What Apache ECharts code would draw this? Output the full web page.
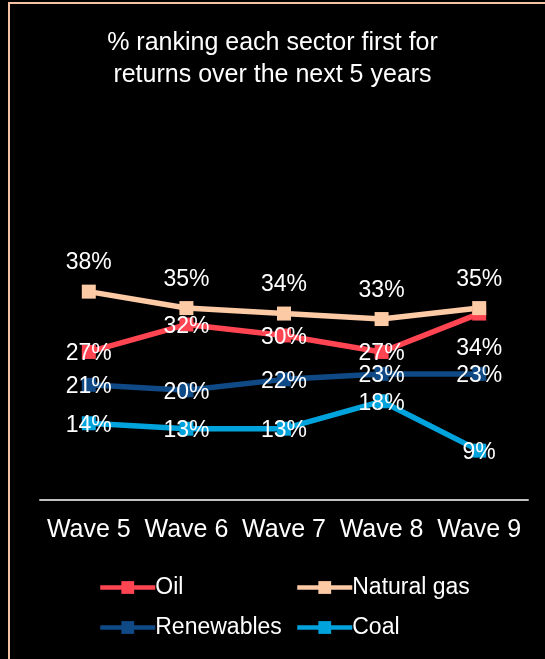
<!DOCTYPE html>
<html>
<head>
<meta charset="utf-8">
<style>
  html, body { margin: 0; padding: 0; background: #000; }
  #chart { width: 545px; height: 659px; }
</style>
<script src="https://cdn.jsdelivr.net/npm/echarts@6/dist/echarts.min.js"></script>
</head>
<body>
<div id="chart"></div>
<script>
// Survey waves on the horizontal axis
const waves = ['Wave 5', 'Wave 6', 'Wave 7', 'Wave 8', 'Wave 9'];

// Share of respondents (%) ranking each sector first
const oil = [27, 32, 30, 27, 34];
const naturalGas = [38, 35, 34, 33, 35];
const renewables = [21, 20, 22, 23, 23];
const coal = [14, 13, 13, 18, 9];

const FONT = '"Liberation Sans", Arial, sans-serif';

// Value labels sitting on top of the point, nudged so the digits look centred
const centred = { position: 'inside', offset: [0, 2] };

function makeSeries(name, values, color, labelOpts) {
  return {
    name: name,
    type: 'line',
    data: values,
    symbol: 'rect',
    symbolSize: 14,
    showAllSymbol: true,
    itemStyle: { color: color },
    lineStyle: { color: color, width: 5.5 },
    label: Object.assign({
      show: true,
      color: '#ffffff',
      fontFamily: FONT,
      fontSize: 23,
      formatter: '{c}%'
    }, labelOpts),
    emphasis: { disabled: true },
    animation: false
  };
}

const legendText = { color: '#ffffff', fontFamily: FONT, fontSize: 23, padding: [0, 0, 0, -5] };

const chart = echarts.init(document.getElementById('chart'), null, { renderer: 'canvas' });

chart.setOption({
  backgroundColor: '#000000',
  animation: false,
  title: {
    text: '% ranking each sector first for\nreturns over the next 5 years',
    left: 'center',
    top: 22,
    textStyle: {
      color: '#ffffff',
      fontFamily: FONT,
      fontSize: 25,
      fontWeight: 'normal',
      lineHeight: 32
    }
  },
  graphic: [{
    type: 'rect',
    shape: { x: 9, y: 3, width: 700, height: 800 },
    style: { fill: 'none', stroke: '#F4C2A2', lineWidth: 2 },
    silent: true
  }],
  grid: { left: 40, right: 17, top: 171, bottom: 159 },
  xAxis: {
    type: 'category',
    data: waves,
    boundaryGap: true,
    axisLine: { lineStyle: { color: '#BFBFBF', width: 2 } },
    axisTick: { show: false },
    axisLabel: {
      color: '#ffffff',
      fontFamily: FONT,
      fontSize: 25,
      margin: 18,
      interval: 0
    }
  },
  yAxis: {
    type: 'value',
    min: 0,
    max: 60,
    show: false,
    splitLine: { show: false }
  },
  legend: [{
    orient: 'vertical',
    left: 93,
    top: 571,
    itemWidth: 55,
    itemHeight: 16,
    itemGap: 17,
    lineStyle: { width: 4.5 },
    data: ['Oil', 'Renewables'],
    textStyle: legendText
  }, {
    orient: 'vertical',
    left: 290,
    top: 571,
    itemWidth: 55,
    itemHeight: 16,
    itemGap: 17,
    lineStyle: { width: 4.5 },
    data: ['Natural gas', 'Coal'],
    textStyle: legendText
  }],
  series: [
    Object.assign(makeSeries('Oil', oil, '#FF4452', centred), {
      data: oil.map(function (v, i) {
        return i === 4
          ? { value: v, label: { position: 'bottom', distance: 17, offset: [0, 0] } }
          : v;
      })
    }),
    makeSeries('Natural gas', naturalGas, '#FDCAA6', { position: 'top', distance: 10 }),
    makeSeries('Renewables', renewables, '#0F4A86', centred),
    makeSeries('Coal', coal, '#00A3DC', centred)
  ]
});
</script>
</body>
</html>
